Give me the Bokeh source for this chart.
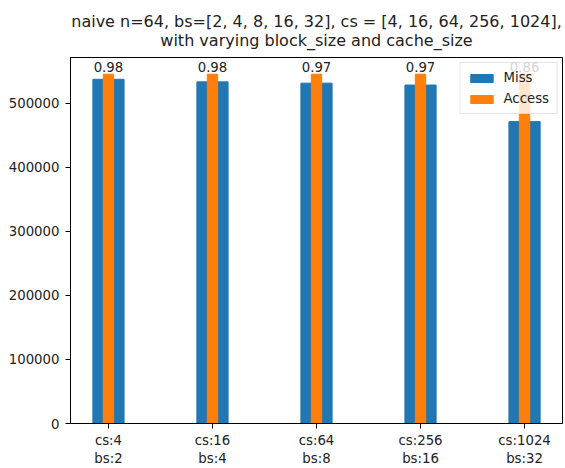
from bokeh.plotting import figure
from bokeh.models import (ColumnDataSource, FixedTicker, NumeralTickFormatter, Title, Range1d)
from bokeh.core.properties import value
from bokeh.embed import file_html
from bokeh.resources import INLINE

cache_sizes = [4, 16, 64, 256, 1024]
block_sizes = [2, 4, 8, 16, 32]
miss = [537000, 533000, 531000, 528000, 471000]
access = [545000, 545000, 545000, 545000, 545000]
ratio_labels = ["0.98", "0.98", "0.97", "0.97", "0.86"]
y_ticks = [0, 100000, 200000, 300000, 400000, 500000]
title_lines = ["naive n=64, bs=[2, 4, 8, 16, 32], cs = [4, 16, 64, 256, 1024],",
               "with varying block_size and cache_size"]

xs = list(range(len(cache_sizes)))
tick_labels = {i: f"cs:{c}\nbs:{b}" for i, (c, b) in enumerate(zip(cache_sizes, block_sizes))}

src = ColumnDataSource(dict(x=xs, miss=miss, access=access, lab=ratio_labels))

FONT = "DejaVu Sans"
FS = "13.3px"
p = figure(width=565, height=468, output_backend="svg", toolbar_location=None,
           x_range=Range1d(-0.365, 4.365), y_range=Range1d(0, 571000),
           min_border_left=70, min_border_right=3, min_border_top=57, min_border_bottom=44)
p.title = None

spacer = Title(text=" ", text_font_size="5px", standoff=0)
ttl = Title(text="\n".join(title_lines), align="center", text_align="center",
            text_font=FONT, text_font_size="16px", text_font_style="normal", text_color="#222222",
            text_line_height=1.0, offset=0, standoff=0)
p.add_layout(spacer, "above")
p.add_layout(ttl, "above")

p.vbar(x="x", top="miss", width=0.3, source=src, color="#1f77b4", legend_label="Miss")
p.vbar(x="x", top="access", width=0.1, source=src, color="#ff7f0e", legend_label="Access")
p.text(x="x", y="access", text="lab", source=src, text_align="center", text_baseline="bottom",
       y_offset=-2, text_font=value(FONT), text_font_size=value(FS), text_color="#222222")

p.xgrid.visible = False
p.ygrid.visible = False
p.outline_line_color = "black"
p.outline_line_width = 1

for ax in (p.xaxis, p.yaxis):
    ax.axis_line_color = "black"
    ax.major_tick_line_color = "black"
    ax.major_tick_out = 5
    ax.major_tick_in = 0
    ax.minor_tick_line_color = None
    ax.major_label_text_font = FONT
    ax.major_label_text_font_size = FS
    ax.major_label_text_color = "#222222"

p.xaxis.ticker = FixedTicker(ticks=xs)
p.xaxis.major_label_overrides = tick_labels
p.xaxis.major_label_standoff = 4
p.yaxis.ticker = FixedTicker(ticks=y_ticks)
p.yaxis.formatter = NumeralTickFormatter(format="0")
p.yaxis.major_label_standoff = 6

lg = p.legend[0]
lg.location = "top_right"
lg.margin = 5
lg.padding = 7
lg.spacing = 6
lg.glyph_width = 28
lg.glyph_height = 10
lg.label_height = 14
lg.label_standoff = 8
lg.label_text_font = FONT
lg.label_text_font_size = FS
lg.label_text_color = "#222222"
lg.border_line_color = "#cccccc"
lg.background_fill_alpha = 0.8

open("out.html", "w").write(file_html(p, INLINE))
